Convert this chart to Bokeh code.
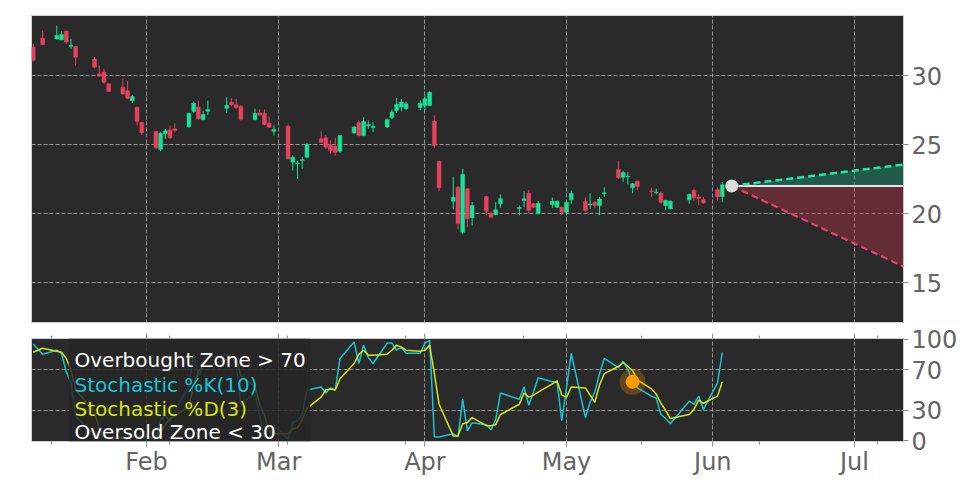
import pandas as pd
from bokeh.plotting import figure
from bokeh.layouts import column
from bokeh.models import (ColumnDataSource, FixedTicker, Range1d, BoxAnnotation, Label,
                          CustomJSTickFormatter, DatetimeAxis)
from bokeh.embed import file_html
from bokeh.resources import INLINE

# ---------------- data ----------------
dates = ["2025-01-08","2025-01-10","2025-01-13","2025-01-14","2025-01-15","2025-01-16","2025-01-17",
         "2025-01-21","2025-01-22","2025-01-23","2025-01-24","2025-01-27","2025-01-28","2025-01-29",
         "2025-01-30","2025-01-31","2025-02-03","2025-02-04","2025-02-05","2025-02-06","2025-02-07",
         "2025-02-10","2025-02-11","2025-02-12","2025-02-13","2025-02-14","2025-02-18","2025-02-19",
         "2025-02-20","2025-02-21","2025-02-24","2025-02-25","2025-02-26","2025-02-27","2025-02-28",
         "2025-03-03","2025-03-04","2025-03-05","2025-03-06","2025-03-07","2025-03-10","2025-03-11",
         "2025-03-12","2025-03-13","2025-03-14","2025-03-17","2025-03-18","2025-03-19","2025-03-20",
         "2025-03-21","2025-03-24","2025-03-25","2025-03-26","2025-03-27","2025-03-28","2025-03-31",
         "2025-04-01","2025-04-02","2025-04-03","2025-04-04","2025-04-07","2025-04-08","2025-04-09",
         "2025-04-10","2025-04-11","2025-04-14","2025-04-15","2025-04-16","2025-04-17","2025-04-21",
         "2025-04-22","2025-04-23","2025-04-24","2025-04-25","2025-04-28","2025-04-29","2025-04-30",
         "2025-05-01","2025-05-02","2025-05-05","2025-05-06","2025-05-07","2025-05-08","2025-05-09",
         "2025-05-12","2025-05-13","2025-05-14","2025-05-15","2025-05-16","2025-05-19","2025-05-20",
         "2025-05-21","2025-05-22","2025-05-23","2025-05-27","2025-05-28","2025-05-29","2025-05-30",
         "2025-06-02","2025-06-03"]

opens = [32.05, 32.70, 32.66, 32.59, 33.22, 32.12, 32.10, 31.20, 30.12, 30.25, 29.40, 29.15, 28.90, 28.19, 27.70, 26.60,
         25.94, 24.64, 25.80, 26.06, 26.14, 26.30, 27.39, 27.70, 26.81, 27.41, 27.63, 28.07, 27.88, 27.78, 26.81, 27.28, 27.27, 26.54, 25.96,
         26.33, 23.72, 23.60, 23.84, 24.08, 25.41, 25.49, 24.93, 24.86, 24.51, 25.83, 26.59, 25.65, 26.36, 26.22, 26.27, 26.95, 27.46, 27.72, 27.60, 27.68,
         27.83, 27.83, 26.70, 23.79, 20.89, 21.90, 18.64, 21.79, 19.69, 21.23, 20.02, 19.93, 20.70, 20.37, 20.94, 21.47, 20.70, 19.98, 20.65, 20.46, 20.46,
         20.10, 20.99, 20.87, 20.62, 20.82, 20.58, 21.43, 23.19, 22.63, 22.65, 21.86, 22.34, 21.65, 21.50, 21.47, 20.58, 20.34, 20.99, 21.67, 21.20, 21.00,
         21.72, 21.23]
closes = [31.10, 32.24, 32.90, 32.97, 32.43, 32.20, 31.33, 30.60, 29.96, 29.52, 28.84, 28.67, 28.36, 28.48, 26.67, 25.85,
          24.76, 25.82, 26.00, 25.49, 26.01, 27.27, 27.99, 26.86, 27.17, 27.54, 27.83, 27.88, 27.67, 26.81, 27.24, 27.15, 26.45, 26.25, 26.09,
          23.96, 24.08, 23.67, 23.90, 25.00, 25.17, 24.80, 24.57, 24.44, 25.65, 26.27, 25.65, 26.67, 26.45, 26.30, 26.80, 27.36, 27.90, 28.08, 27.96, 28.00,
          28.31, 28.79, 24.93, 21.86, 21.18, 19.25, 22.83, 19.62, 20.58, 20.17, 19.73, 20.27, 21.07, 20.43, 21.07, 20.22, 20.46, 20.75, 20.89, 20.89, 20.10,
          20.82, 21.47, 20.22, 20.68, 20.58, 21.05, 21.50, 22.59, 22.97, 22.70, 22.15, 21.96, 21.60, 21.55, 20.82, 20.94, 20.89, 21.38, 21.14, 21.10, 20.78,
          21.20, 22.08]
highs = [32.30, 33.26, 33.62, 33.20, 33.25, 32.67, 32.10, 31.34, 30.72, 30.49, 29.45, 29.76, 29.60, 28.60, 27.75, 26.65,
         26.00, 25.90, 26.14, 26.38, 26.54, 27.30, 28.10, 28.19, 27.46, 28.19, 28.43, 28.36, 28.31, 27.85, 27.60, 27.54, 27.54, 27.00, 26.38,
         26.45, 24.20, 23.84, 24.08, 25.12, 25.96, 25.70, 25.30, 25.49, 25.70, 26.35, 26.74, 26.98, 26.74, 26.63, 26.90, 27.55, 28.38, 28.30, 28.10, 28.20,
         28.56, 28.85, 27.10, 23.80, 22.68, 22.00, 23.24, 21.85, 20.82, 21.30, 20.10, 20.82, 21.40, 20.58, 21.62, 21.72, 20.75, 20.90, 21.16, 20.95, 20.50,
         20.90, 21.67, 21.16, 21.47, 20.90, 21.20, 21.90, 23.84, 23.10, 23.00, 22.20, 22.40, 21.86, 21.80, 21.60, 21.00, 20.95, 21.45, 21.80, 21.40, 21.20,
         21.90, 22.27]
lows = [31.00, 32.20, 32.60, 32.55, 32.30, 31.94, 30.72, 30.50, 29.90, 29.40, 28.80, 28.60, 28.30, 28.00, 26.38, 25.70,
        24.70, 24.51, 25.40, 25.40, 25.90, 26.20, 27.30, 26.80, 26.75, 27.15, 27.30, 27.80, 27.60, 26.75, 26.75, 27.10, 26.40, 26.20, 25.65,
        23.90, 23.12, 22.51, 23.24, 24.00, 25.10, 24.70, 24.33, 24.20, 24.40, 25.80, 25.60, 25.60, 26.14, 25.90, 26.20, 26.85, 27.30, 27.40, 27.50, 27.50,
        27.50, 27.80, 24.76, 21.62, 20.34, 18.89, 18.50, 19.00, 19.13, 19.86, 19.65, 19.85, 20.40, 19.86, 20.46, 20.00, 20.40, 19.95, 20.40, 20.40, 19.86,
        20.00, 20.70, 20.10, 20.34, 20.40, 19.86, 21.20, 22.50, 22.30, 22.10, 21.47, 21.70, 21.20, 21.40, 20.70, 20.27, 20.30, 20.70, 20.90, 20.60, 20.70,
        20.90, 20.82]

stoch_k = [95, 85, 89, 86, 68, 57, 24, 6, 3, 4, 2, 3, 2, 9, 4, 3,
           2, 21, 25, 19, 29, 54, 85, 64, 72, 82, 85, 82, 75, 36, 47, 24, 3, 3, 15,
           2, 18, 20, 26, 50, 53, 47, 52, 50, 81, 97, 76, 94, 82, 76, 96, 96, 89, 92, 86, 86,
           96, 99, 4, 4, 7, 4, 41, 10, 18, 16, 11, 21, 47, 41, 53, 35, 48, 62, 58, 58, 20,
           52, 86, 23, 38, 48, 66, 81, 72, 78, 70, 58, 52, 44, 42, 26, 22, 17, 39, 36, 44, 31,
           57, 87]
stoch_d = [87, 91, 88, 87, 81, 70, 50, 29, 11, 4, 3, 3, 2, 5, 5, 5,
           3, 9, 16, 22, 24, 34, 56, 68, 74, 73, 80, 83, 81, 64, 53, 36, 25, 10, 7,
           7, 12, 13, 21, 32, 43, 50, 51, 50, 61, 76, 85, 89, 84, 84, 85, 89, 94, 92, 89, 88,
           89, 94, 66, 36, 5, 5, 17, 18, 23, 15, 15, 16, 26, 36, 47, 43, 45, 48, 56, 59, 45,
           43, 53, 52, 45, 38, 55, 66, 73, 77, 73, 69, 60, 51, 46, 37, 30, 22, 26, 31, 40, 37,
           44, 58]

signal_date = "2025-05-15"          # orange marker on %K

forecast_dates = ["2025-06-05 00:00", "2025-07-11 09:36"]
forecast_base = [22.0, 22.0]
forecast_upper = [22.0, 23.55]
forecast_lower = [22.0, 16.16]

month_ticks = ["2025-02-01", "2025-03-01", "2025-04-01", "2025-05-01", "2025-06-01", "2025-07-01"]
month_labels = ["Feb", "Mar", "Apr", "May", "Jun", "Jul"]
minor_ticks = ["2025-01-11 19:12", "2025-02-05 19:12", "2025-03-02 19:12", "2025-03-27 19:12",
               "2025-04-21 19:12", "2025-05-16 19:12", "2025-06-10 19:12", "2025-07-05 19:12"]

price_ticks = [15, 20, 25, 30]
stoch_ticks = [0, 30, 70, 100]
legend_texts = ["Overbought Zone > 70", "Stochastic %K(10)", "Stochastic %D(3)", "Oversold Zone < 30"]

# ---------------- styling ----------------
UP = "#18e298"
DOWN = "#e8405e"
K_COL = "#19c3d6"
D_COL = "#d6e31b"
BG = "#2a2a2a"
GRID = "#b4b4b4"
TXT = "#646464"
FONT = "DejaVu Sans"


def ms(s):
    return pd.Timestamp(s).value / 1e6


dt = pd.to_datetime(dates)
x_start = pd.Timestamp("2025-01-07 15:20")
x_end = pd.Timestamp(forecast_dates[-1])

colors = [UP if c >= o else DOWN for o, c in zip(opens, closes)]
src = ColumnDataSource(dict(
    x=dt, open=opens, close=closes, high=highs, low=lows,
    top=[max(o, c) for o, c in zip(opens, closes)],
    bottom=[min(o, c) for o, c in zip(opens, closes)],
    color=colors, k=stoch_k, d=stoch_d))

month_ms = [ms(t) for t in month_ticks]
minor_ms = [ms(t) for t in minor_ticks]


def style_axis(ax):
    ax.axis_line_color = None
    ax.major_tick_line_color = "#8c8c8c"
    ax.minor_tick_line_color = "#8c8c8c"
    ax.major_tick_in = 0
    ax.minor_tick_in = 0
    ax.major_label_text_font = FONT
    ax.major_label_text_color = TXT
    ax.major_label_text_font_size = "18pt"


def style_common(p):
    p.background_fill_color = BG
    p.border_fill_color = "white"
    p.outline_line_color = "#cfcfcf"
    p.outline_line_width = 1
    for g in (p.xgrid, p.ygrid):
        g.grid_line_color = GRID
        g.grid_line_dash = "4 2"
        g.grid_line_alpha = 0.75
        g.grid_line_width = 1
    p.xgrid.ticker = FixedTicker(ticks=month_ms)
    for ax in (p.xaxis, p.yaxis):
        style_axis(ax)
    p.xaxis.ticker = FixedTicker(ticks=month_ms, minor_ticks=minor_ms)
    p.xaxis.major_tick_out = 5
    p.xaxis.minor_tick_out = 3
    p.yaxis.major_tick_out = 5
    p.yaxis.minor_tick_out = 0
    p.yaxis.major_label_standoff = 3


# ---------------- main price panel ----------------
p = figure(x_axis_type="datetime", frame_width=872, frame_height=308,
           x_range=Range1d(x_start, x_end), y_range=Range1d(12.03, 34.35),
           y_axis_location="right", output_backend="svg", toolbar_location=None,
           min_border_left=31, min_border_top=15, min_border_right=58, min_border_bottom=0)
style_common(p)
p.yaxis.ticker = FixedTicker(ticks=price_ticks)
p.ygrid.ticker = FixedTicker(ticks=price_ticks)
p.xaxis.visible = False

p.segment(x0="x", y0="low", x1="x", y1="high", color="color", line_width=1, source=src)
p.vbar(x="x", width=0.82 * 86400000, top="top", bottom="bottom",
       fill_color="color", line_color="color", line_width=0.5, source=src)

fdt = pd.to_datetime(forecast_dates, format="mixed")
p.varea(x=fdt, y1=forecast_base, y2=forecast_upper, fill_color="#18a070", fill_alpha=0.42)
p.varea(x=fdt, y1=forecast_lower, y2=forecast_base, fill_color="#c0304a", fill_alpha=0.38)
p.line(x=fdt, y=forecast_base, line_color="#e6e6e6", line_width=2)
p.line(x=fdt, y=forecast_upper, line_color="#1de9a0", line_width=2.5, line_dash="7 4")
p.line(x=fdt, y=forecast_lower, line_color="#e8406a", line_width=2.2, line_dash="7 4")
p.scatter(x=fdt[:1], y=forecast_base[:1], size=13, fill_color="#dcdcdc", line_color=None)

# ---------------- stochastic panel ----------------
s = figure(x_axis_type="datetime", frame_width=872, frame_height=103,
           x_range=p.x_range, y_range=Range1d(-0.5, 100.5),
           y_axis_location="right", output_backend="svg", toolbar_location=None,
           min_border_left=31, min_border_top=15, min_border_right=58, min_border_bottom=0)
style_common(s)
s.yaxis.ticker = FixedTicker(ticks=stoch_ticks)
s.ygrid.ticker = FixedTicker(ticks=stoch_ticks[1:3])
s.xaxis.major_label_overrides = {ms(t): lab for t, lab in zip(month_ticks, month_labels)}
s.xaxis.major_label_standoff = 1

# tick marks in the gap between panels (date ticks of the price panel)
gap_axis = DatetimeAxis(ticker=FixedTicker(ticks=month_ms, minor_ticks=minor_ms),
                        formatter=CustomJSTickFormatter(code="return ''"))
style_axis(gap_axis)
gap_axis.major_label_text_font_size = "0px"
gap_axis.major_label_standoff = 0
gap_axis.major_tick_out = 5
gap_axis.minor_tick_out = 3
s.add_layout(gap_axis, "above")

s.line(x="x", y="k", source=src, line_color=K_COL, line_width=1.5)
s.line(x="x", y="d", source=src, line_color=D_COL, line_width=1.5)

sig_i = dates.index(signal_date)
s.scatter(x=[dt[sig_i]], y=[stoch_k[sig_i]], size=26, fill_color="#ff9a00", fill_alpha=0.25, line_color=None)
s.scatter(x=[dt[sig_i]], y=[stoch_k[sig_i]], size=14, fill_color="#ff9a00", line_color=None)

s.add_layout(BoxAnnotation(left=ms("2025-01-15 12:00"), right=ms("2025-03-07 17:00"),
                           fill_color="#262626", fill_alpha=0.85, line_color=None))
legend_colors = ["#ffffff", K_COL, D_COL, "#ffffff"]
legend_y = [79.8, 55.2, 31.6, 9.3]
for txt, col, yy in zip(legend_texts, legend_colors, legend_y):
    s.add_layout(Label(x=ms("2025-01-16 18:00"), y=yy, text=txt, text_color=col,
                       text_font=FONT, text_font_size="15pt", text_baseline="alphabetic"))

layout = column(p, s, spacing=0)
open("out.html", "w").write(file_html(layout, INLINE))
